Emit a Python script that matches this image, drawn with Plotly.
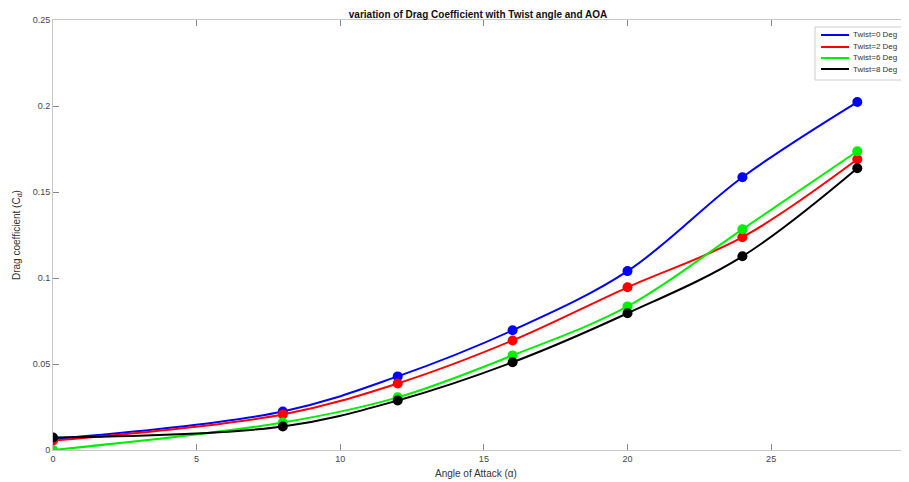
import plotly.graph_objects as go

aoa = [0, 8, 12, 16, 20, 24, 28]
twist0 = [0.0065, 0.0224, 0.0428, 0.0696, 0.1040, 0.1586, 0.2023]
twist2 = [0.0055, 0.0207, 0.0387, 0.0637, 0.0946, 0.1237, 0.1690]
twist6 = [0.0000, 0.0160, 0.0306, 0.0550, 0.0835, 0.1283, 0.1737]
twist8 = [0.0073, 0.0137, 0.0288, 0.0510, 0.0795, 0.1126, 0.1638]

names = ["Twist=0 Deg", "Twist=2 Deg", "Twist=6 Deg", "Twist=8 Deg"]
colors = ["#0000ff", "#ff0000", "#00ee00", "#000000"]
series = [twist0, twist2, twist6, twist8]

xticks = [0, 5, 10, 15, 20, 25, 30]
yticks = [0, 0.05, 0.1, 0.15, 0.2, 0.25]
yticklabels = ["0", "0.05", "0.1", "0.15", "0.2", "0.25"]

# page body adds an 8px offset; size figure so it fills the 909x482 window
OFF = 8
W, H = 909 - OFF, 482 - OFF
L, R, T, B = 53 - OFF, 0, 20 - OFF, 32
PW, PH = W - L - R, H - T - B


def px(x):
    return (x - OFF - L) / PW


def py(y):
    return (H - B - (y - OFF)) / PH


fig = go.Figure()
for name, col, ys in zip(names, colors, series):
    fig.add_trace(go.Scatter(x=aoa, y=ys, mode="lines", name=name, showlegend=False,
                             line=dict(color=col, width=2, shape="spline", smoothing=1.0)))
for name, col, ys in zip(names, colors, series):
    fig.add_trace(go.Scatter(x=aoa, y=ys, mode="markers", showlegend=False,
                             marker=dict(color=col, size=10)))

axis_common = dict(showgrid=False, zeroline=False, showline=True, linecolor="#c8c8c8",
                   linewidth=1, mirror="ticks", ticks="inside", ticklen=6, automargin=False,
                   tickcolor="#888888", tickfont=dict(family="Arial", size=9, color="#444444"))

shapes = [dict(type="rect", xref="paper", yref="paper", x0=px(815), x1=px(905),
               y0=py(80), y1=py(27), line=dict(color="#cccccc", width=1),
               fillcolor="white", layer="above")]
annotations = []
rows = [35, 47, 58, 69]
for name, col, ry in zip(names, colors, rows):
    shapes.append(dict(type="line", xref="paper", yref="paper", x0=px(821), x1=px(849),
                       y0=py(ry), y1=py(ry), line=dict(color=col, width=2), layer="above"))
    annotations.append(dict(text=name, xref="paper", yref="paper", x=px(851), y=py(ry),
                            xanchor="left", yanchor="middle", showarrow=False,
                            font=dict(family="Arial", size=8, color="#333333")))

annotations.append(dict(text="Angle of Attack (α)", xref="paper", yref="paper",
                        x=px(476), y=py(473), xanchor="center", yanchor="middle", showarrow=False,
                        font=dict(family="Arial", size=10, color="#333333")))
annotations.append(dict(text="Drag coefficient (C<sub>d</sub>)", xref="paper", yref="paper",
                        x=px(17), y=py(235), xanchor="center", yanchor="middle", showarrow=False,
                        textangle=-90, font=dict(family="Arial", size=10, color="#333333")))

fig.update_layout(
    width=W, height=H,
    margin=dict(l=L, r=R, t=T, b=B),
    paper_bgcolor="white", plot_bgcolor="white",
    showlegend=False,
    title=dict(text="<b>variation of Drag Coefficient with Twist angle and AOA</b>",
               x=px(478), xanchor="center", xref="paper", y=(H - (14 - OFF)) / H, yanchor="middle",
               font=dict(family="Arial", size=10, color="#111111")),
    xaxis=dict(range=[0, 29.8], tickvals=xticks, ticktext=[str(t) for t in xticks], **axis_common),
    yaxis=dict(range=[0, 0.25], tickvals=yticks, ticktext=yticklabels, **axis_common),
    shapes=shapes,
    annotations=annotations,
)

fig.write_html("out.html")
